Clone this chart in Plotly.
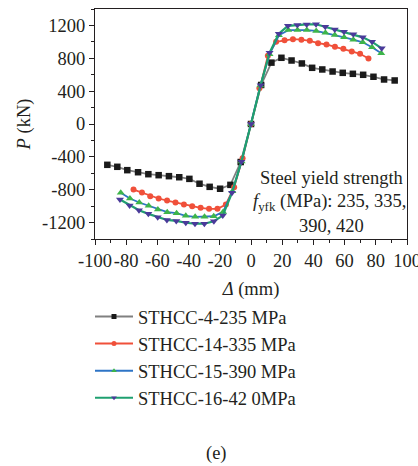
import plotly.graph_objects as go

# Load-displacement skeleton curves, grouped by steel yield strength
disp_235 = [-92.1, -85.7, -79.3, -72.4, -65.8, -59.2, -52.6, -46.0, -39.5, -33.0,
            -26.5, -19.8, -13.2, -6.6, 0, 6.5, 13.1, 19.5, 26.0, 32.6,
            39.2, 45.7, 52.3, 58.8, 65.3, 71.9, 78.5, 85.3, 92.1]
load_235 = [-497, -521, -562, -587, -611, -623, -635, -648, -668, -727,
            -765, -788, -741, -463, 0, 475, 747, 806, 773, 737,
            684, 664, 639, 623, 611, 599, 575, 542, 530]

disp_335 = [-75.3, -69.9, -64.6, -59.2, -53.8, -48.4, -43.0, -37.7, -32.3, -26.9,
            -21.5, -16.1, -10.8, -5.4, 0, 5.4, 10.8, 16.1, 21.5, 26.9,
            32.3, 37.7, 43.0, 48.4, 53.8, 59.2, 64.6, 69.9, 75.3]
load_335 = [-798, -834, -879, -907, -932, -956, -980, -1001, -1021, -1033,
            -1033, -980, -770, -416, 0, 436, 830, 1000, 1021, 1033,
            1026, 1013, 984, 968, 940, 916, 883, 855, 798]

disp_390 = [-83.5, -77.6, -71.6, -65.6, -59.7, -53.7, -47.7, -41.8, -35.8, -29.8,
            -23.9, -17.9, -11.9, -6.0, 0, 6.0, 11.9, 17.9, 23.9, 29.8,
            35.8, 41.8, 47.7, 53.7, 59.7, 65.6, 71.6, 77.6, 83.5]
load_390 = [-838, -907, -956, -996, -1041, -1074, -1086, -1118, -1130, -1130,
            -1123, -1070, -820, -455, 0, 468, 850, 1080, 1143, 1143,
            1143, 1133, 1110, 1082, 1055, 1027, 995, 935, 861]

disp_420 = [-84.0, -77.8, -71.8, -65.8, -59.8, -53.9, -47.9, -41.8, -35.9, -29.9,
            -23.8, -18.1, -12.2, -6.2, 0, 6.2, 11.9, 17.8, 23.7, 29.7,
            35.7, 41.7, 47.6, 53.7, 59.6, 65.6, 71.6, 77.6, 83.8]
load_420 = [-920, -991, -1049, -1094, -1135, -1168, -1180, -1202, -1214, -1214,
            -1184, -1115, -838, -460, 0, 473, 867, 1100, 1195, 1205,
            1212, 1214, 1184, 1151, 1123, 1092, 1055, 1000, 921]

series_names = ["STHCC-4-235 MPa", "STHCC-14-335 MPa", "STHCC-15-390 MPa", "STHCC-16-42 0MPa"]

y_ticks = [-1200, -800, -400, 0, 400, 800, 1200]
y_ticktext = ["-1200", "-800", "-400", "0", "400", "800", "1200"]
x_ticks = [-100, -80, -60, -40, -20, 0, 20, 40, 60, 80, 100]
x_ticktext = ["-100", "-80", "-60", "-40", "-20", "0", "20", "40", "60", "80", "100"]

FONT = "Liberation Serif"
FS = 18.5
TXT = "#231f20"

styles = [
    dict(line=dict(color="#808080", width=1.8), mk=dict(symbol="square", color="#1a1a1a", size=6.5)),
    dict(line=dict(color="#f0503a", width=1.8), mk=dict(symbol="circle", color="#f0503a", size=6)),
    dict(line=dict(color="#2e74c6", width=1.8), mk=dict(symbol="triangle-up", color="#3db54a", size=7)),
    dict(line=dict(color="#1fa070", width=2.2), mk=dict(symbol="triangle-down", color="#4a3a9a", size=7)),
]
data = [(disp_235, load_235), (disp_335, load_335), (disp_390, load_390), (disp_420, load_420)]

fig = go.Figure()
for (xs, ys), st, name in zip(data, styles, series_names):
    fig.add_trace(go.Scatter(x=xs, y=ys, mode="lines+markers", name=name,
                             line=st["line"], marker=st["mk"], showlegend=False))

# legend entries drawn with smaller symbols
for st, name in zip(styles, series_names):
    fig.add_trace(go.Scatter(x=[None], y=[None], mode="lines+markers", name=name,
                             line=dict(color=st["line"]["color"], width=2),
                             marker=dict(symbol=st["mk"]["symbol"], color=st["mk"]["color"], size=5)))

axis_common = dict(showline=True, linecolor="#231f20", linewidth=1.2, mirror=True,
                   showgrid=False, zeroline=False, ticks="outside", ticklen=5,
                   tickcolor="#231f20", ticklabeloverflow="allow", tickangle=0,
                   automargin=False,
                   tickfont=dict(family=FONT, size=FS, color=TXT))

fig.update_xaxes(range=[-100, 100], tickmode="array", tickvals=x_ticks, ticktext=x_ticktext,
                 minor=dict(tickmode="linear", tick0=-100, dtick=10, ticklen=3,
                            ticks="outside", tickcolor="#231f20"),
                 title=dict(text="<i>Δ</i> (mm)", font=dict(family=FONT, size=FS, color=TXT), standoff=11),
                 **axis_common)
fig.update_yaxes(range=[-1400, 1400], tickmode="array", tickvals=y_ticks, ticktext=y_ticktext,
                 minor=dict(tickmode="linear", tick0=-1400, dtick=200, ticklen=3,
                            ticks="outside", tickcolor="#231f20"),
                 title=dict(text="<i>P</i> (kN)", font=dict(family=FONT, size=FS, color=TXT), standoff=6),
                 **axis_common)

ann_font = dict(family=FONT, size=FS, color=TXT)


def px_to_paper(px, py):
    return (px - 95) / 312, (239 - py) / 230


for text, (px, py) in [("Steel yield strength", (331, 178)),
                       ("<i>f</i><sub>yfk</sub> (MPa): 235, 335,", (329, 202)),
                       ("390, 420", (331, 226)),
                       ("(e)", (216, 453))]:
    ax, ay = px_to_paper(px, py)
    fig.add_annotation(x=ax, y=ay, xref="paper", yref="paper", text=text, showarrow=False,
                       font=ann_font, xanchor="center", yanchor="middle")

lx, ly = px_to_paper(90, 298)
fig.update_layout(
    width=418, height=466,
    margin=dict(l=95, r=11, t=9, b=227, autoexpand=False),
    paper_bgcolor="white", plot_bgcolor="white",
    font=dict(family=FONT, size=FS, color=TXT),
    legend=dict(x=lx, y=ly, xanchor="left", yanchor="top", itemwidth=38,
                font=dict(family=FONT, size=FS, color=TXT), bgcolor="rgba(0,0,0,0)",
                tracegroupgap=0),
)

fig.write_html("out.html")
